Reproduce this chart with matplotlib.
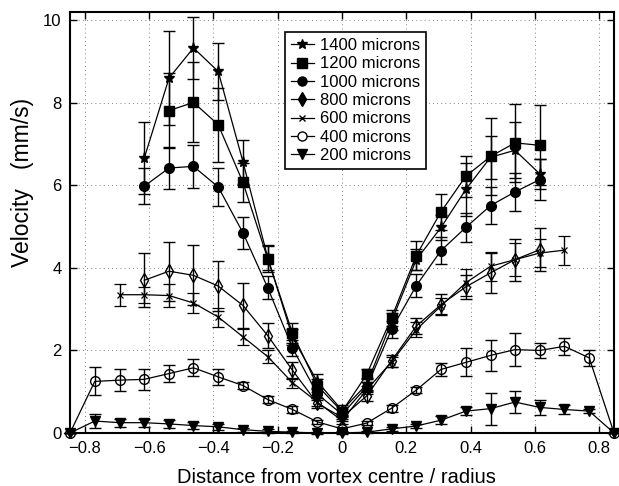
import numpy as np
import matplotlib.pyplot as plt
from matplotlib.lines import Line2D

plt.rcParams['font.family'] = ['Liberation Sans', 'DejaVu Sans']

nan = np.nan

# Radial stations (distance from vortex centre / radius)
positions = [-0.846, -0.769, -0.692, -0.615, -0.538, -0.462, -0.385, -0.308,
             -0.231, -0.154, -0.077, 0.0, 0.077, 0.154, 0.231, 0.308,
             0.385, 0.462, 0.538, 0.615, 0.692, 0.769, 0.846]

# Mean velocity (mm/s) at each station for each depth
v1400 = [nan, nan, nan, 6.66, 8.60, 9.33, 8.76, 6.57, 4.25, 2.32, 1.25, 0.55,
         1.18, 2.70, 4.20, 4.98, 5.90, 6.68, 6.85, 6.28, nan, nan, nan]
v1200 = [nan, nan, nan, nan, 7.81, 8.01, 7.47, 6.07, 4.22, 2.42, 1.15, 0.52,
         1.42, 2.79, 4.30, 5.36, 6.22, 6.70, 7.03, 6.97, nan, nan, nan]
v1000 = [nan, nan, nan, 5.98, 6.42, 6.46, 5.96, 4.85, 3.52, 2.06, 0.95, 0.45,
         1.12, 2.51, 3.57, 4.42, 4.98, 5.51, 5.84, 6.14, nan, nan, nan]
v800 = [nan, nan, nan, 3.70, 3.92, 3.82, 3.56, 3.09, 2.36, 1.52, 0.72, 0.38,
        0.90, 1.75, 2.59, 3.11, 3.54, 3.88, 4.20, 4.44, nan, nan, nan]
v600 = [nan, nan, 3.35, 3.35, 3.33, 3.15, 2.81, 2.33, 1.85, 1.22, 0.75, 0.30,
        1.05, 1.72, 2.50, 3.08, 3.64, 4.04, 4.20, 4.36, 4.43, nan, nan]
v400 = [0.0, 1.25, 1.28, 1.30, 1.44, 1.58, 1.36, 1.15, 0.81, 0.57, 0.27, 0.10,
        0.24, 0.60, 1.04, 1.54, 1.71, 1.88, 2.02, 2.00, 2.10, 1.82, 0.0]
v200 = [0.0, 0.29, 0.25, 0.25, 0.22, 0.18, 0.15, 0.08, 0.04, 0.02, 0.0, 0.0,
        0.02, 0.10, 0.17, 0.31, 0.53, 0.59, 0.75, 0.62, 0.57, 0.53, 0.0]

# Error bar half-widths (mm/s)
e1400 = [nan, nan, nan, 0.87, 1.13, 0.75, 0.70, 0.54, 0.30, 0.20, 0.18, 0.12,
         0.15, 0.20, 0.25, 0.30, 0.65, 0.52, 0.68, 0.36, nan, nan, nan]
e1200 = [nan, nan, nan, nan, 0.90, 0.97, 0.90, 0.47, 0.32, 0.25, 0.15, 0.12,
         0.12, 0.20, 0.35, 0.44, 0.50, 0.94, 0.95, 0.97, nan, nan, nan]
e1000 = [nan, nan, nan, 0.44, 0.51, 0.52, 0.46, 0.38, 0.28, 0.20, 0.15, 0.12,
         0.12, 0.20, 0.28, 0.32, 0.35, 0.45, 0.46, 0.49, nan, nan, nan]
e800 = [nan, nan, nan, 0.65, 0.71, 0.73, 0.60, 0.55, 0.30, 0.20, 0.12, 0.10,
        0.12, 0.15, 0.20, 0.25, 0.30, 0.48, 0.51, 0.52, nan, nan, nan]
e600 = [nan, nan, 0.27, 0.19, 0.27, 0.25, 0.23, 0.19, 0.15, 0.12, 0.10, 0.08,
        0.10, 0.12, 0.18, 0.20, 0.33, 0.35, 0.40, 0.35, 0.35, nan, nan]
e400 = [0.0, 0.34, 0.26, 0.26, 0.20, 0.21, 0.19, 0.08, 0.08, 0.08, 0.05, 0.05,
        0.05, 0.08, 0.08, 0.15, 0.34, 0.38, 0.40, 0.19, 0.21, 0.20, 0.0]
e200 = [0.0, 0.17, 0.10, 0.10, 0.10, 0.08, 0.08, 0.05, 0.05, 0.03, 0.03, 0.03,
        0.03, 0.05, 0.05, 0.10, 0.10, 0.39, 0.27, 0.19, 0.10, 0.05, 0.0]

labels = ['1400 microns', '1200 microns', '1000 microns', '800 microns',
          '600 microns', '400 microns', '200 microns']

series = [
    (v1400, e1400, dict(marker='*', ms=8, mfc='k')),
    (v1200, e1200, dict(marker='s', ms=6.5, mfc='k')),
    (v1000, e1000, dict(marker='o', ms=7, mfc='k')),
    (v800, e800, dict(marker='d', ms=7, mfc='none')),
    (v600, e600, dict(marker='x', ms=5, mew=0.9)),
    (v400, e400, dict(marker='o', ms=7, mfc='none')),
    (v200, e200, dict(marker='v', ms=7, mfc='k')),
]

fig = plt.figure(figsize=(6.19, 4.86), dpi=100)
ax = fig.add_axes([70 / 619, 1 - 433 / 486, 544 / 619, 421 / 486])

x = np.array(positions)
for vals, errs, style in series:
    v = np.array(vals)
    e = np.array(errs)
    ok = ~np.isnan(v)
    ax.errorbar(x[ok], v[ok], yerr=e[ok], color='k', lw=0.9, elinewidth=1.0,
                capsize=4, capthick=1.0, mec='k', zorder=3, clip_on=False,
                **style)

ax.set_xlim(-0.846, 0.846)
ax.set_ylim(0, 10.2)
ax.set_xticks([-0.8, -0.6, -0.4, -0.2, 0, 0.2, 0.4, 0.6, 0.8])
ax.set_xticklabels(['\u22120.8', '\u22120.6', '\u22120.4', '\u22120.2', '0',
                    '0.2', '0.4', '0.6', '0.8'])
ax.set_yticks([0, 2, 4, 6, 8, 10])
ax.tick_params(direction='in', length=5, width=1, top=True, right=True,
               labelsize=12, pad=6)
ax.grid(True, color='0.35', linestyle=(0, (1, 4)), linewidth=0.6)
for sp in ax.spines.values():
    sp.set_linewidth(1.5)

ax.set_xlabel('Distance from vortex centre / radius', fontsize=14.5)
ax.xaxis.label.set_va('baseline')
ax.xaxis.set_label_coords(0.49, -0.119)
ax.set_ylabel('Velocity   (mm/s)', fontsize=16.5)
ax.yaxis.label.set_va('center')
ax.yaxis.set_label_coords(-0.087, 0.594)

# Legend uses solid symbols for every depth except the open-circle series
handles = [
    Line2D([], [], color='k', lw=0.9, marker='*', ms=7, mfc='k', mec='k'),
    Line2D([], [], color='k', lw=0.9, marker='s', ms=6.5, mfc='k', mec='k'),
    Line2D([], [], color='k', lw=0.9, marker='o', ms=6.5, mfc='k', mec='k'),
    Line2D([], [], color='k', lw=0.9, marker='d', ms=7, mfc='k', mec='k'),
    Line2D([], [], color='k', lw=0.9, marker='x', ms=4.5, mec='k'),
    Line2D([], [], color='k', lw=0.9, marker='o', ms=6.5, mfc='white', mec='k'),
    Line2D([], [], color='k', lw=0.9, marker='v', ms=6.5, mfc='k', mec='k'),
]
leg = ax.legend(handles, labels, loc='upper left', bbox_to_anchor=(0.395, 0.952),
                fontsize=12, frameon=True, fancybox=False, framealpha=1,
                edgecolor='k', handlelength=1.4, handletextpad=0.35,
                labelspacing=0.2, borderpad=0.35, borderaxespad=0)
leg.get_frame().set_linewidth(1.2)

fig.savefig('out.png', dpi=100)
